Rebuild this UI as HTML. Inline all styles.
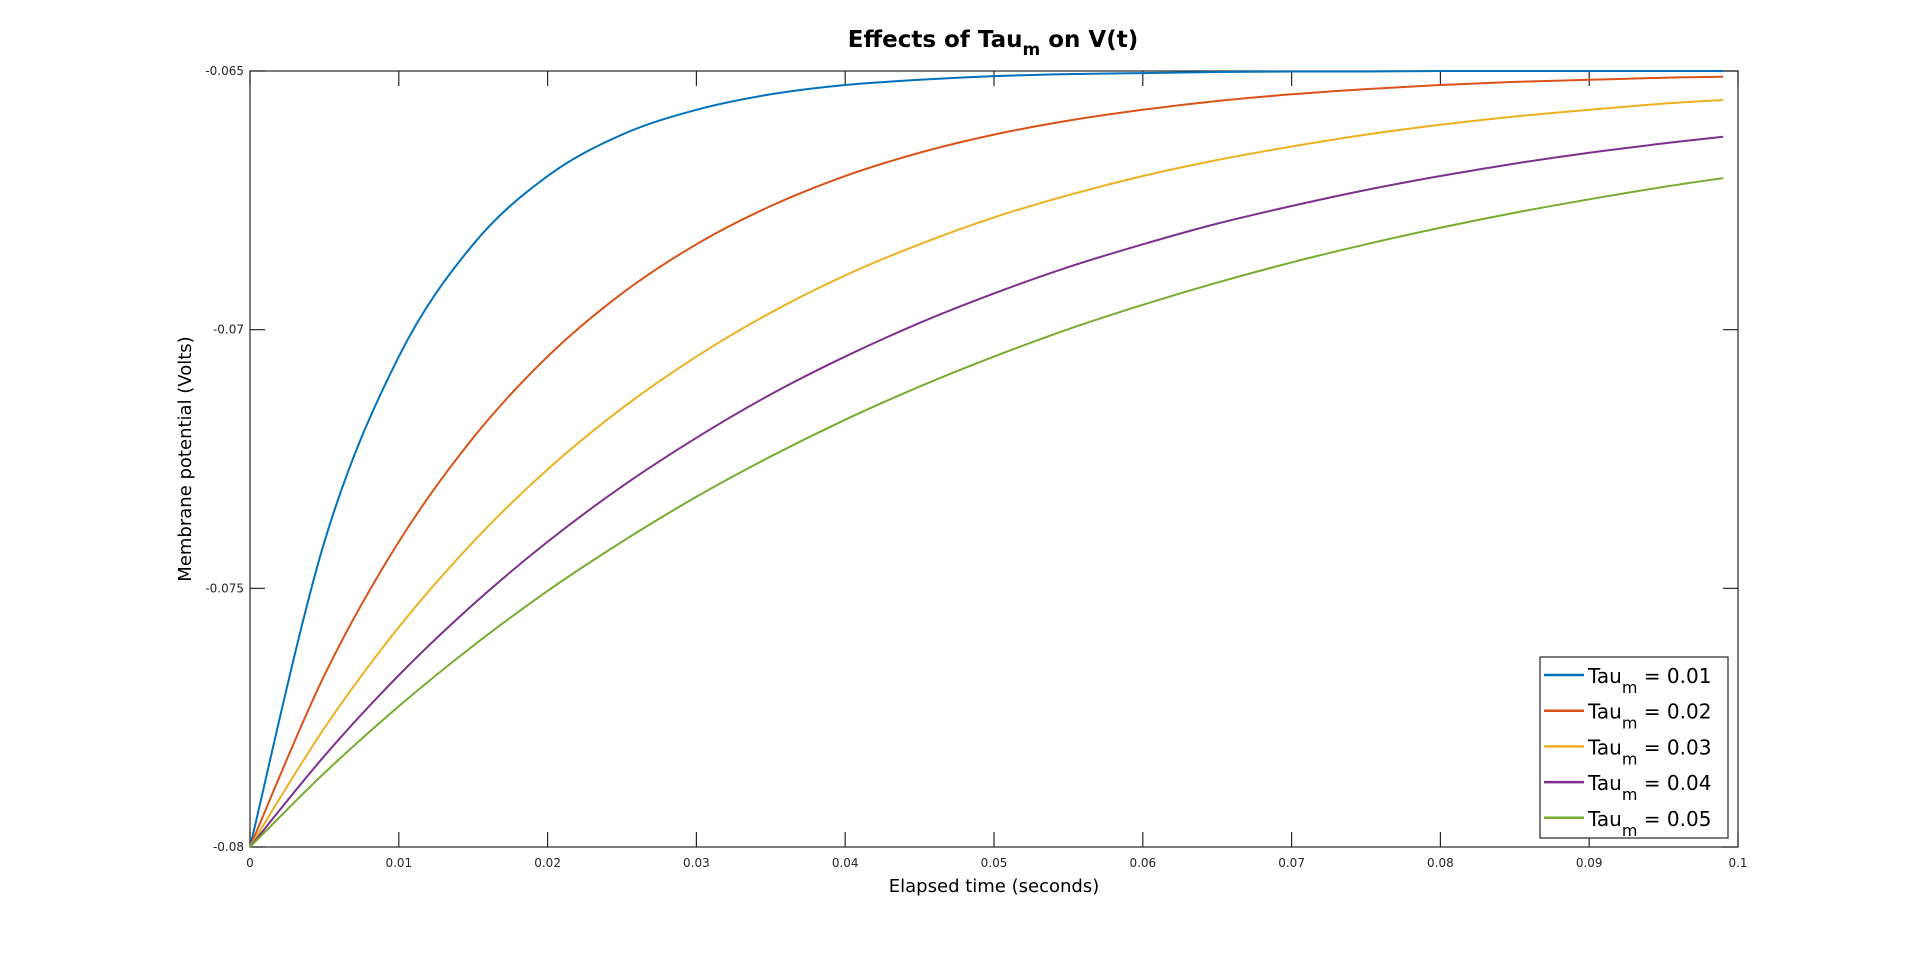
<!DOCTYPE html>
<html><head><meta charset="utf-8"><style>
body{margin:0;background:#fff;}
svg text{font-family:"DejaVu Sans","Liberation Sans",sans-serif;}
</style></head><body>
<svg id="chart" width="1920" height="954" xmlns="http://www.w3.org/2000/svg">
<rect width="1920" height="954" fill="#fff"/>
<text x="993" y="47" text-anchor="middle" font-size="23" font-weight="bold">Effects of Tau<tspan font-size="17" dy="8">m</tspan><tspan dy="-8"> on V(t)</tspan></text>
<text x="994" y="892" text-anchor="middle" font-size="18">Elapsed time (seconds)</text>
<text transform="translate(191,459) rotate(-90)" text-anchor="middle" font-size="18">Membrane potential (Volts)</text>
<g id="plot"></g>
</svg>
<script>
const times=[0,0.005,0.01,0.015,0.02,0.025,0.03,0.035,0.04,0.045,0.05,0.055,0.06,0.065,0.07,0.075,0.08,0.085,0.09,0.095,0.099];
const seriesNames=["0.01","0.02","0.03","0.04","0.05"];
const s1=[-0.08,-0.07410,-0.07052,-0.06835,-0.06703,-0.06623,-0.06575,-0.06545,-0.06527,-0.06517,-0.06510,-0.06506,-0.06504,-0.06502,-0.06501,-0.06501,-0.06500,-0.06500,-0.06500,-0.06500,-0.06500];
const s2=[-0.08,-0.07668,-0.07410,-0.07209,-0.07052,-0.06930,-0.06835,-0.06761,-0.06703,-0.06658,-0.06623,-0.06596,-0.06575,-0.06558,-0.06545,-0.06535,-0.06527,-0.06521,-0.06517,-0.06513,-0.06511];
const s3=[-0.08,-0.07770,-0.07575,-0.07410,-0.07270,-0.07152,-0.07052,-0.06967,-0.06895,-0.06835,-0.06783,-0.06740,-0.06703,-0.06672,-0.06646,-0.06623,-0.06604,-0.06588,-0.06575,-0.06563,-0.06556];
const s4=[-0.08,-0.07824,-0.07668,-0.07531,-0.07410,-0.07303,-0.07209,-0.07125,-0.07052,-0.06987,-0.06930,-0.06879,-0.06835,-0.06795,-0.06761,-0.06730,-0.06703,-0.06679,-0.06658,-0.06640,-0.06627];
const s5=[-0.08,-0.07857,-0.07728,-0.07611,-0.07505,-0.07410,-0.07323,-0.07245,-0.07174,-0.07110,-0.07052,-0.06999,-0.06952,-0.06909,-0.06870,-0.06835,-0.06803,-0.06774,-0.06748,-0.06724,-0.06707];
const xTicks=[0,0.01,0.02,0.03,0.04,0.05,0.06,0.07,0.08,0.09,0.1];
const xTickLabels=["0","0.01","0.02","0.03","0.04","0.05","0.06","0.07","0.08","0.09","0.1"];
const yTicks=[-0.08,-0.075,-0.07,-0.065];
const yTickLabels=["-0.08","-0.075","-0.07","-0.065"];

const colors=["#0072BD","#D95319","#EDB120","#7E2F8E","#77AC30"];
const L=250,R=1738,T=71,B=847;
const xs=v=>L+(v-0)/(0.1-0)*(R-L);
const ys=v=>B-(v+0.08)/(0.015)*(B-T);
const NS="http://www.w3.org/2000/svg";
const g=document.getElementById('plot');
function mk(tag,attrs){const e=document.createElementNS(NS,tag);for(const k in attrs)e.setAttribute(k,attrs[k]);return e;}
function path(vals){
  const p=times.map((t,i)=>[xs(t),ys(vals[i])]);
  let d="M"+p[0][0]+","+p[0][1];
  for(let i=0;i<p.length-1;i++){
    const p0=p[i-1]||p[i],p1=p[i],p2=p[i+1],p3=p[i+2]||p[i+1];
    const c1=[p1[0]+(p2[0]-p0[0])/6,p1[1]+(p2[1]-p0[1])/6];
    const c2=[p2[0]-(p3[0]-p1[0])/6,p2[1]-(p3[1]-p1[1])/6];
    d+=` C${c1[0]},${c1[1]} ${c2[0]},${c2[1]} ${p2[0]},${p2[1]}`;
  }
  return d;
}
// axes box
const box=mk('rect',{x:L,y:T,width:R-L,height:B-T,fill:'none',stroke:'#262626','stroke-width':1.2});


g.appendChild(box);
xTicks.forEach((v,i)=>{
  const x=xs(v);
  const t1=mk('line',{x1:x,x2:x,y1:B,y2:B-15,stroke:'#262626','stroke-width':1.2});
  
  
  g.appendChild(t1);
  const t2=mk('line',{x1:x,x2:x,y1:T,y2:T+15,stroke:'#262626','stroke-width':1.2});
  
  
  g.appendChild(t2);
  const lb=mk('text',{x:x,y:B+20,'text-anchor':'middle','font-size':12,fill:'#262626'});
  lb.textContent=xTickLabels[i];
  
  
  g.appendChild(lb);
});
yTicks.forEach((v,i)=>{
  const y=ys(v);
  const t1=mk('line',{x1:L,x2:L+15,y1:y,y2:y,stroke:'#262626','stroke-width':1.2});
  
  
  g.appendChild(t1);
  const t2=mk('line',{x1:R,x2:R-15,y1:y,y2:y,stroke:'#262626','stroke-width':1.2});
  
  
  g.appendChild(t2);
  const lb=mk('text',{x:L-6,y:y+4,'text-anchor':'end','font-size':12,fill:'#262626'});
  lb.textContent=yTickLabels[i];
  
  
  g.appendChild(lb);
});
[s1,s2,s3,s4,s5].forEach((s,i)=>{
  const p=mk('path',{d:path(s),fill:'none',stroke:colors[i],'stroke-width':2});
  
  
  g.appendChild(p);
});
// legend
const lg=mk('g',{});


g.appendChild(lg);
const lr=mk('rect',{x:1540,y:657,width:188,height:181,fill:'#fff',stroke:'#262626','stroke-width':1.2});


lg.appendChild(lr);
seriesNames.forEach((n,i)=>{
  const y=673+i*35.7;
  const ln=mk('line',{x1:1544,x2:1584,y1:y+2,y2:y+2,stroke:colors[i],'stroke-width':2.5});
  
  
  lg.appendChild(ln);
  const tx=mk('text',{x:1588,y:y+10,'font-size':20,fill:'#000'});
  
  
  tx.innerHTML='Tau<tspan font-size="16" dy="10">m</tspan><tspan dy="-10"> = '+n+'</tspan>';
  lg.appendChild(tx);
});
</script>
</body></html>
